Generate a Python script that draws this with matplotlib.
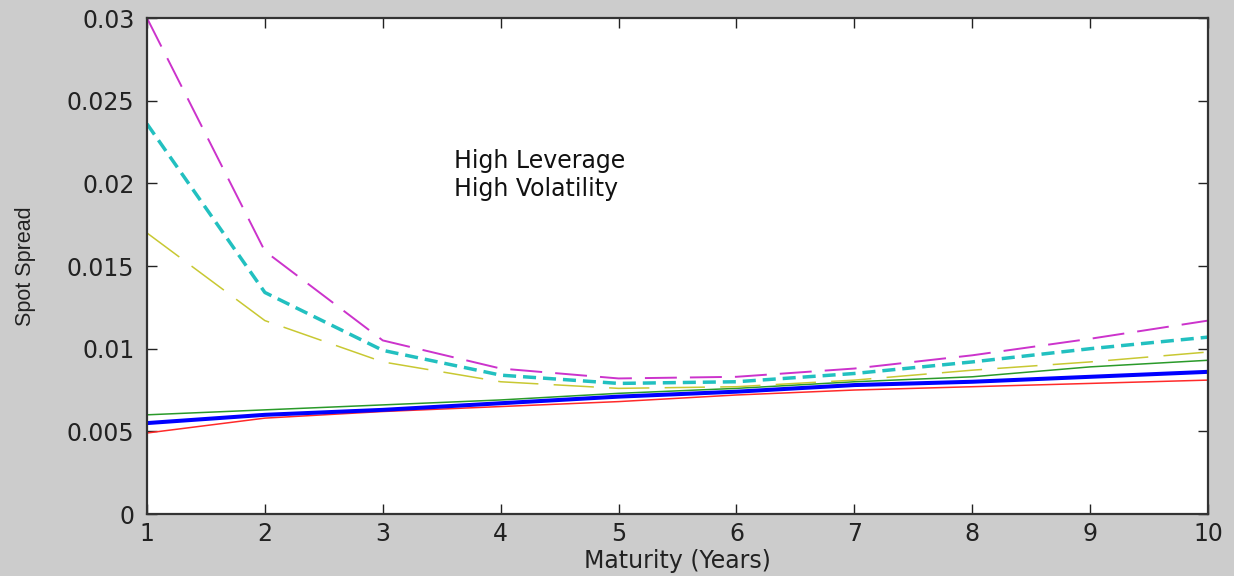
import matplotlib
matplotlib.use('Agg')
import matplotlib.pyplot as plt

# maturity in years
years = [1, 2, 3, 4, 5, 6, 7, 8, 9, 10]

# spot spreads
magenta = [0.0300, 0.0159, 0.0105, 0.0088, 0.0082, 0.0083, 0.0088, 0.0096, 0.0106, 0.0117]
cyan = [0.0236, 0.0134, 0.0099, 0.0084, 0.0079, 0.0080, 0.0085, 0.0092, 0.0100, 0.0107]
yellow = [0.0170, 0.0117, 0.0092, 0.0080, 0.0076, 0.0077, 0.0081, 0.0087, 0.0092, 0.0098]
green = [0.0060, 0.0063, 0.0066, 0.0069, 0.0073, 0.0076, 0.0080, 0.0083, 0.0089, 0.0093]
blue = [0.0055, 0.0060, 0.0063, 0.0067, 0.0071, 0.0074, 0.0078, 0.0080, 0.0083, 0.0086]
red = [0.0049, 0.0058, 0.0062, 0.0065, 0.0068, 0.0072, 0.0075, 0.0077, 0.0079, 0.0081]

yticks = [0, 0.005, 0.01, 0.015, 0.02, 0.025, 0.03]
ytick_labels = ['0', '0.005', '0.01', '0.015', '0.02', '0.025', '0.03']

plt.rcParams['lines.scale_dashes'] = False
plt.rcParams['font.family'] = ['DejaVu Sans']

fig = plt.figure(figsize=(12.34, 5.76), dpi=100, facecolor='#cccccc')
ax = fig.add_axes([0.1191, 0.1076, 0.8599, 0.8611])
ax.set_facecolor('white')

# thin solid lines first, heavy ones on top
ax.plot(years, red, color='#ff2a2a', lw=1.1)
ax.plot(years, green, color='#2a9a2a', lw=1.1)
ax.plot(years, blue, color='#0000ff', lw=2.9)
ax.plot(years, yellow, color='#c8c832', lw=1.1, dashes=(29, 11))
ax.plot(years, cyan, color='#22c0c0', lw=2.5, dashes=(9.4, 5))
ax.plot(years, magenta, color='#cc33cc', lw=1.4, dashes=(23, 9.4), clip_on=False)

ax.text(3.6, 0.0221, 'High Leverage\nHigh Volatility', fontsize=17,
        va='top', ha='left', linespacing=1.25, color='#111111')

ax.set_xlim(1, 10)
ax.set_ylim(0, 0.03)
ax.set_xticks(years)
ax.set_yticks(yticks)
ax.set_yticklabels(ytick_labels)

ax.tick_params(direction='in', length=7, width=1, top=True, right=True,
               labelsize=17, colors='#222222', pad=9)
ax.tick_params(axis='x', pad=6)
for s in ax.spines.values():
    s.set_linewidth(1.6)
    s.set_color('#333333')

ax.set_xlabel('Maturity (Years)', fontsize=17, labelpad=2, color='#222222')
ax.set_ylabel('Spot Spread', fontsize=15.5, family=['Liberation Sans'], labelpad=22, color='#222222')

fig.savefig('out.png', dpi=100, facecolor=fig.get_facecolor())
